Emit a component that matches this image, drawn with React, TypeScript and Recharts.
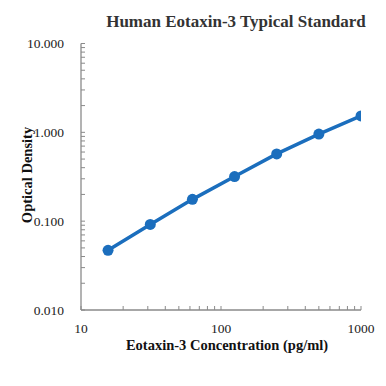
import React from 'react';
import { LineChart, Line, XAxis, YAxis } from 'recharts';

const concentrations = [15.6, 31.25, 62.5, 125, 250, 500, 1000];
const opticalDensity = [0.047, 0.092, 0.176, 0.318, 0.572, 0.955, 1.53];

const xTickValues = [10, 20, 30, 40, 50, 60, 70, 80, 90, 100, 200, 300, 400, 500, 600, 700, 800, 900, 1000];
const xMajor = [10, 100, 1000];
const yTickValues = [
  0.01, 0.02, 0.03, 0.04, 0.05, 0.06, 0.07, 0.08, 0.09,
  0.1, 0.2, 0.3, 0.4, 0.5, 0.6, 0.7, 0.8, 0.9,
  1, 2, 3, 4, 5, 6, 7, 8, 9, 10,
];
const yMajor = [0.01, 0.1, 1, 10];

const title = 'Human Eotaxin-3 Typical Standard';
const xTitle = 'Eotaxin-3 Concentration (pg/ml)';
const yTitle = 'Optical Density';

const data = concentrations.map((c, i) => ({ x: c, y: opticalDensity[i] }));

const FONT = '"Liberation Serif", "Times New Roman", serif';
const AXIS = '#8a8a8a';
const BLUE = '#1b6ebd';

const isMajor = (v: number, list: number[]) => list.some((m) => Math.abs(m - v) < 1e-9);

const XTick = (props: any) => {
  const { x, y, payload } = props;
  const v = payload.value;
  const major = isMajor(v, xMajor);
  return (
    <g>
      <line x1={x} x2={x} y1={y} y2={y - 4} stroke={AXIS} strokeWidth={1} />
      {major && (
        <text x={x} y={y + 23} textAnchor="middle" fontFamily={FONT} fontSize={13.5} fill="#222">
          {String(v)}
        </text>
      )}
    </g>
  );
};

const YTick = (props: any) => {
  const { x, y, payload } = props;
  const v = payload.value;
  const major = isMajor(v, yMajor);
  return (
    <g>
      <line x1={x} x2={x + 4} y1={y} y2={y} stroke={AXIS} strokeWidth={1} />
      {major && (
        <text x={x - 17} y={y + 4.5} textAnchor="end" fontFamily={FONT} fontSize={13.5} fill="#222">
          {v.toFixed(3)}
        </text>
      )}
    </g>
  );
};

export default function App() {
  return (
    <div style={{ position: 'absolute', left: 0, top: 0, width: 386, height: 386, background: '#fff' }}>
      <LineChart
        width={386}
        height={386}
        data={data}
        margin={{ top: 43.5, right: 25, bottom: 0, left: 0 }}
      >
        <XAxis
          dataKey="x"
          type="number"
          scale="log"
          domain={[10, 1000]}
          ticks={xTickValues}
          interval={0}
          tick={<XTick />}
          tickLine={false}
          tickSize={0}
          tickMargin={0}
          axisLine={{ stroke: AXIS, strokeWidth: 1.3 }}
          allowDataOverflow
          height={76}
        />
        <YAxis
          dataKey="y"
          type="number"
          scale="log"
          domain={[0.01, 10]}
          ticks={yTickValues}
          interval={0}
          tick={<YTick />}
          tickLine={false}
          tickSize={0}
          tickMargin={0}
          axisLine={{ stroke: AXIS, strokeWidth: 1.3 }}
          allowDataOverflow
          width={81}
        />
        <Line
          dataKey="y"
          type="linear"
          stroke={BLUE}
          strokeWidth={3.5}
          dot={{ r: 5.5, fill: BLUE, stroke: BLUE, strokeWidth: 0 }}
          isAnimationActive={false}
        />
        <text x={236} y={27} textAnchor="middle" fontFamily={FONT} fontSize={17} fontWeight="bold" fill="#333">
          {title}
        </text>
        <text x={227} y={350} textAnchor="middle" fontFamily={FONT} fontSize={14.5} fontWeight="bold" fill="#111">
          {xTitle}
        </text>
        <text
          x={0}
          y={0}
          transform="translate(32,175) rotate(-90)"
          textAnchor="middle"
          fontFamily={FONT}
          fontSize={14.5}
          fontWeight="bold"
          fill="#111"
        >
          {yTitle}
        </text>
      </LineChart>
    </div>
  );
}
